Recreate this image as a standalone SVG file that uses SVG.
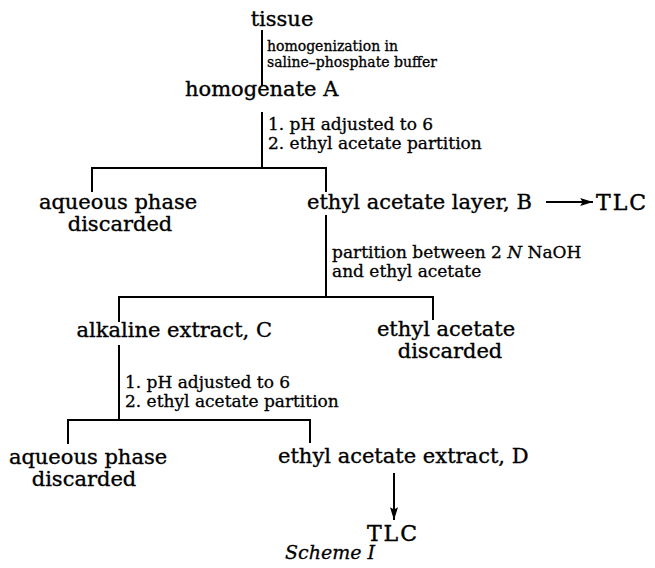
<svg xmlns="http://www.w3.org/2000/svg" width="655" height="568" viewBox="0 0 655 568">
<defs>
<style>
.big{font-family:"DejaVu Serif","Liberation Serif",serif;font-size:21px;fill:#000;stroke:#000;stroke-width:0.35}
.sm{font-family:"DejaVu Serif","Liberation Serif",serif;font-size:17px;fill:#000;stroke:#000;stroke-width:0.3}
.xs{font-family:"DejaVu Serif","Liberation Serif",serif;font-size:14px;fill:#000;stroke:#000;stroke-width:0.3}
.tlc{font-family:"DejaVu Serif","Liberation Serif",serif;font-size:22px;letter-spacing:2px;fill:#000;stroke:#000;stroke-width:0.4}
.it{font-family:"DejaVu Serif","Liberation Serif",serif;font-size:19px;font-style:italic;fill:#000;stroke:#000;stroke-width:0.3}
.ln{stroke:#000;stroke-width:2;fill:none}
</style>
<marker id="ah2" viewBox="0 0 16 10" refX="16" refY="5" markerWidth="16" markerHeight="8" orient="auto" markerUnits="userSpaceOnUse">
<path d="M0,0 L16,5 L0,10 L3,5 z" fill="#000"/>
</marker>
</defs>
<rect width="655" height="568" fill="#fff"/>
<g id="connectors">
<line class="ln" x1="262" y1="30" x2="262" y2="86"/>
<line class="ln" x1="262" y1="112" x2="262" y2="168"/>
<polyline class="ln" points="92,192 92,168 326,168 326,192"/>
<line class="ln" x1="326" y1="215" x2="326" y2="297"/>
<polyline class="ln" points="119,322 119,297 433,297 433,320"/>
<line class="ln" x1="119" y1="345" x2="119" y2="420"/>
<polyline class="ln" points="68,444 68,420 310,420 310,443"/>
<line class="ln" x1="546" y1="202" x2="593" y2="202" marker-end="url(#ah2)"/>
<line class="ln" x1="394" y1="473" x2="394" y2="520" marker-end="url(#ah2)"/>
</g>
<g id="tissue"><text class="big" x="282" y="26" text-anchor="middle">tissue</text></g>
<g id="step1"><text class="xs" x="267" y="51">homogenization in</text><text class="xs" x="267" y="67">saline–phosphate buffer</text></g>
<g id="homogenateA"><text class="big" x="185" y="96">homogenate A</text></g>
<g id="step2"><text class="sm" x="268" y="130">1. pH adjusted to 6</text><text class="sm" x="268" y="149">2. ethyl acetate partition</text></g>
<g id="aqueous1"><text class="big" x="118" y="209" text-anchor="middle">aqueous phase</text><text class="big" x="120" y="231" text-anchor="middle">discarded</text></g>
<g id="layerB"><text class="big" x="307" y="209">ethyl acetate layer, B</text></g>
<g id="tlc1"><text class="tlc" x="596" y="210">TLC</text></g>
<g id="step3"><text class="sm" x="332" y="258">partition between 2 <tspan font-style="italic">N</tspan> NaOH</text><text class="sm" x="332" y="277">and ethyl acetate</text></g>
<g id="extractC"><text class="big" x="272" y="337" text-anchor="end">alkaline extract, C</text></g>
<g id="ethylDiscarded"><text class="big" x="446" y="336" text-anchor="middle">ethyl acetate</text><text class="big" x="450" y="358" text-anchor="middle">discarded</text></g>
<g id="step4"><text class="sm" x="125" y="388">1. pH adjusted to 6</text><text class="sm" x="125" y="407">2. ethyl acetate partition</text></g>
<g id="aqueous2"><text class="big" x="88" y="464" text-anchor="middle">aqueous phase</text><text class="big" x="84" y="486" text-anchor="middle">discarded</text></g>
<g id="extractD"><text class="big" x="278" y="463">ethyl acetate extract, D</text></g>
<g id="tlc2"><text class="tlc" x="393" y="541" text-anchor="middle">TLC</text></g>
<g id="caption"><text class="it" x="285" y="559">Scheme I</text></g>
</svg>
